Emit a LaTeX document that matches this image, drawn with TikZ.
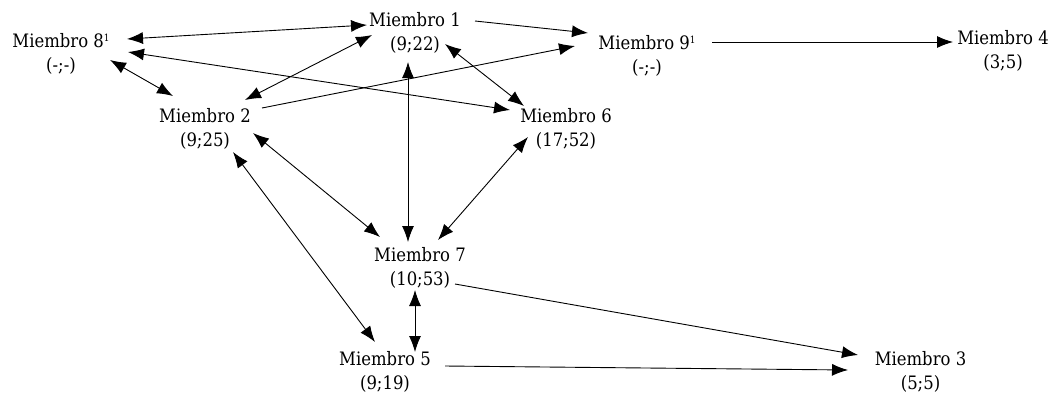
\documentclass[tikz,border=0pt]{standalone}
\usepackage{fontspec}
\setmainfont{DejaVu Serif}[FakeStretch=0.89]
\usetikzlibrary{arrows.meta,calc}
\tikzset{
  member/.style={align=center, inner sep=0pt, font=\fontsize{18.5}{24}\selectfont},
  link/.style={line width=0.9pt, -{Latex[length=16pt,width=12pt]}},
  blink/.style={line width=0.9pt, {Latex[length=16pt,width=12pt]}-{Latex[length=16pt,width=12pt]}},
}
\newcommand{\sups}[1]{\raisebox{0.6ex}{\fontsize{10}{10}\selectfont #1}}
\begin{document}
\begin{tikzpicture}[x=1pt,y=-1pt]
\useasboundingbox (0,0) rectangle (1051,394);
\node[member] (m8) at (61,54) {Miembro 8\sups{1}\\(-;-)};
\node[member] (m1) at (415,32.5) {Miembro 1\\(9;22)};
\node[member] (m9) at (647,55.5) {Miembro 9\sups{1}\\(-;-)};
\node[member] (m4) at (1003,50.5) {Miembro 4\\(3;5)};
\node[member] (m2) at (205,129) {Miembro 2\\(9;25)};
\node[member] (m6) at (566,129) {Miembro 6\\(17;52)};
\node[member] (m7) at (420,267.5) {Miembro 7\\(10;53)};
\node[member] (m5) at (385,371.5) {Miembro 5\\(9;19)};
\node[member] (m3) at (920.5,371.5) {Miembro 3\\(5;5)};

\draw[blink] ($(m8)+(66,-15)$) -- ($(m1)+(-48,-7.5)$);
\draw[blink] ($(m8)+(67,-2)$) -- ($(m6)+(-56,-19)$);
\draw[blink] ($(m8)+(49,6)$) -- ($(m2)+(-32,-33)$);
\draw[blink] ($(m2)+(40,-29)$) -- ($(m1)+(-43,2.5)$);
\draw[link] ($(m2)+(57,-21)$) -- ($(m9)+(-72,-9.5)$);
\draw[link] ($(m1)+(60,-11.5)$) -- ($(m9)+(-59,-22.5)$);
\draw[blink] ($(m1)+(30,11.5)$) -- ($(m6)+(-42,-23)$);
\draw[blink] ($(m1)+(-7,29.5)$) -- ($(m7)+(-12,-25.5)$);
\draw[link] ($(m9)+(65,-13.5)$) -- ($(m4)+(-50,-8.5)$);
\draw[blink] ($(m2)+(48,4)$) -- ($(m7)+(-40,-30.5)$);
\draw[blink] ($(m2)+(28,23)$) -- ($(m5)+(-10,-29.5)$);
\draw[blink] ($(m6)+(-38,8)$) -- ($(m7)+(18,-27.5)$);
\draw[blink] ($(m7)+(-5,22.5)$) -- ($(m5)+(30,-19.5)$);
\draw[link] ($(m7)+(35,16.5)$) -- ($(m3)+(-62.5,-16.5)$);
\draw[link] ($(m5)+(60,-5.5)$) -- ($(m3)+(-72.5,-1.5)$);
\end{tikzpicture}
\end{document}
